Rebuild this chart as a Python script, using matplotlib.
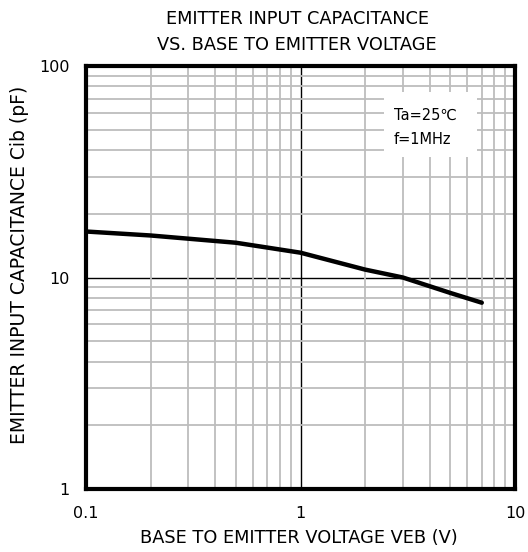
import matplotlib.pyplot as plt
from matplotlib.ticker import FixedLocator, LogLocator, NullFormatter
from matplotlib.patches import Rectangle

plt.rcParams['font.family'] = ['DejaVu Sans', 'Noto Sans CJK JP']

# Cib vs VEB
veb = [0.1, 0.2, 0.5, 1.0, 2.0, 3.0, 5.0, 7.0]
cib = [16.5, 15.8, 14.6, 13.1, 10.9, 10.0, 8.45, 7.6]

x_ticks = [0.1, 1, 10]
x_labels = ["0.1", "1", "10"]
y_ticks = [1, 10, 100]
y_labels = ["1", "10", "100"]

W, H = 528, 552
fig = plt.figure(figsize=(W / 100, H / 100), dpi=100)
ax = fig.add_axes([86 / W, 1 - 489 / H, 429 / W, 423 / H])

ax.set_xscale("log")
ax.set_yscale("log")
ax.set_xlim(0.1, 10)
ax.set_ylim(1, 100)

# grid: gray minor lines, black decade lines
ax.xaxis.set_minor_locator(LogLocator(base=10, subs=range(2, 10)))
ax.yaxis.set_minor_locator(LogLocator(base=10, subs=range(2, 10)))
ax.xaxis.set_minor_formatter(NullFormatter())
ax.yaxis.set_minor_formatter(NullFormatter())
ax.grid(True, which="minor", color="#bdbdbd", lw=1.3, zorder=0)
ax.axvline(1, color="black", lw=1.0, zorder=1)
ax.axhline(10, color="black", lw=1.0, zorder=1)

ax.xaxis.set_major_locator(FixedLocator(x_ticks))
ax.yaxis.set_major_locator(FixedLocator(y_ticks))
ax.set_xticklabels(x_labels)
ax.set_yticklabels(y_labels)
ax.tick_params(which="both", length=0, labelsize=11.5)
ax.tick_params(axis="x", pad=12)
ax.tick_params(axis="y", pad=12)

for s in ax.spines.values():
    s.set_linewidth(3)

ax.plot(veb, cib, color="black", lw=3.2, solid_capstyle="round", zorder=3)

# conditions box
ax.add_patch(Rectangle((384 / W, 1 - 157 / H), 93 / W, 65 / H,
                       transform=fig.transFigure, facecolor="white",
                       edgecolor="none", zorder=2))
fig.text(394 / W, 1 - 115 / H, "Ta=25℃", fontsize=10.5, va="center", zorder=4)
fig.text(394 / W, 1 - 139 / H, "f=1MHz", fontsize=10.5, va="center", zorder=4)

fs = 12.8
fig.text(297 / W, 1 - 19 / H, "EMITTER INPUT CAPACITANCE", ha="center", va="center", fontsize=fs)
fig.text(297 / W, 1 - 45 / H, "VS. BASE TO EMITTER VOLTAGE", ha="center", va="center", fontsize=fs)
fig.text(299 / W, 1 - 538 / H, "BASE TO EMITTER VOLTAGE VEB (V)", ha="center", va="center", fontsize=fs)
fig.text(20 / W, 1 - 265 / H, "EMITTER INPUT CAPACITANCE Cib (pF)", ha="center", va="center",
         rotation=90, fontsize=13.5)

fig.savefig("out.png", dpi=100)
